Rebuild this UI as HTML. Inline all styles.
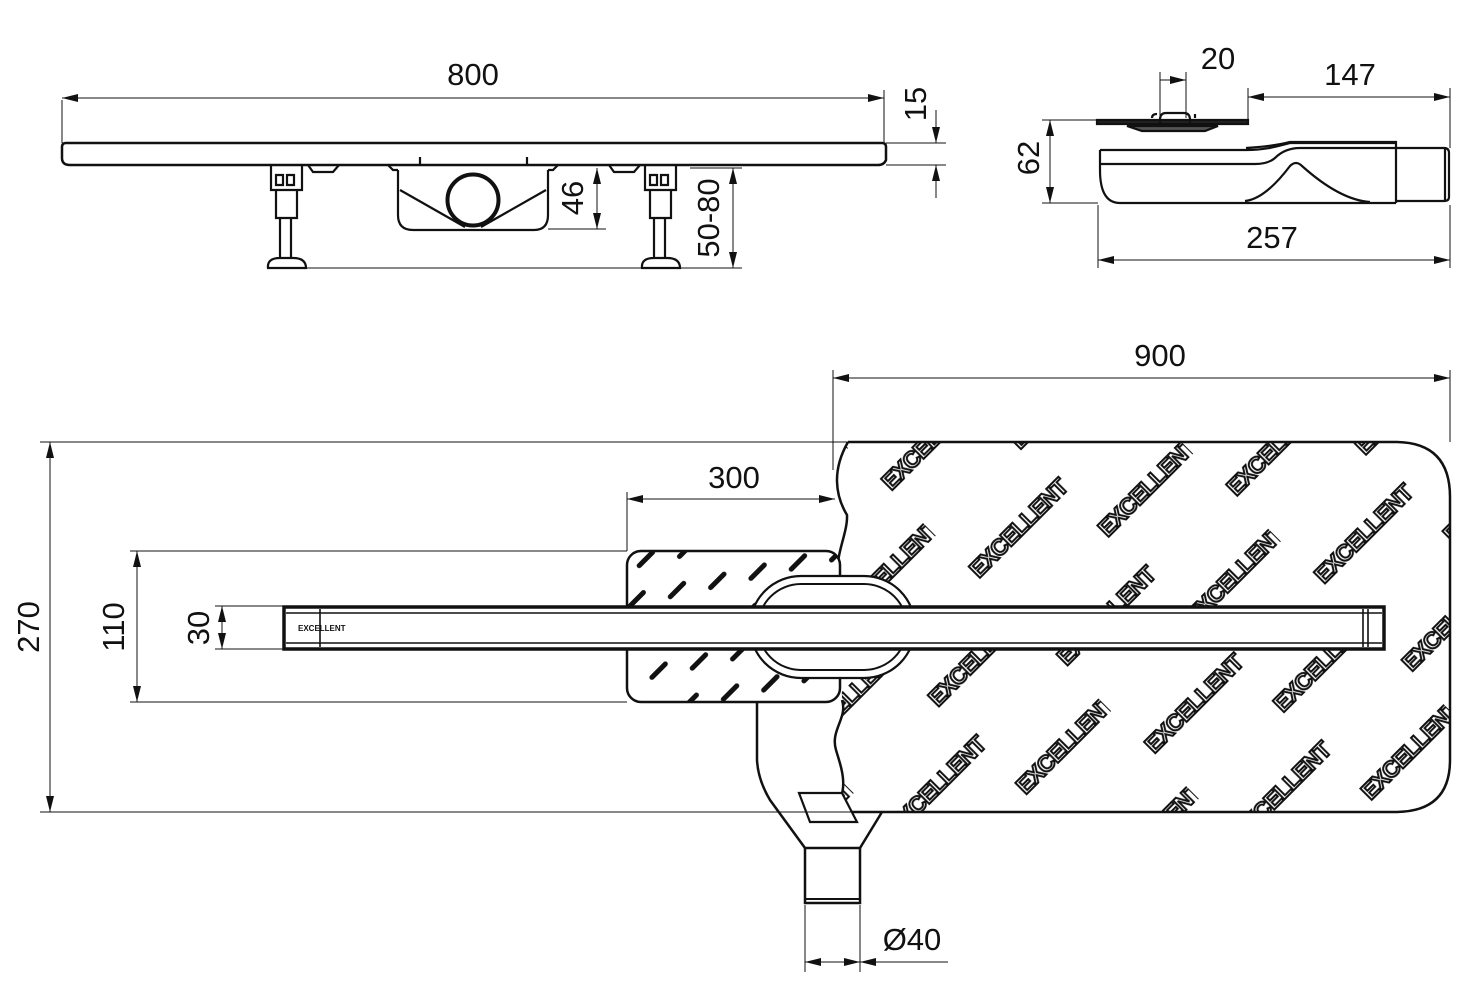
<!DOCTYPE html>
<html><head><meta charset="utf-8"><style>html,body{margin:0;padding:0;background:#fff}svg{display:block}</style></head>
<body>
<svg width="1474" height="982" viewBox="0 0 1474 982" xmlns="http://www.w3.org/2000/svg" font-family="Liberation Sans, sans-serif">
<defs>
<marker id="a" viewBox="0 0 16 8" refX="16" refY="4" markerWidth="16" markerHeight="8" orient="auto-start-reverse" markerUnits="userSpaceOnUse"><path d="M0,0 L16,4 L0,8 Z" fill="#111"/></marker>
<pattern id="wm" width="240" height="124" patternUnits="userSpaceOnUse" patternTransform="translate(870,470) rotate(-45)">
<text x="0" y="30" font-size="23" font-weight="bold" fill="#fff" stroke="#111" stroke-width="2" letter-spacing="-1">EXCELLENT</text>
<text x="120" y="92" font-size="23" font-weight="bold" fill="#fff" stroke="#111" stroke-width="2" letter-spacing="-1">EXCELLENT</text>
</pattern>
<pattern id="hs" width="70" height="44" patternUnits="userSpaceOnUse" patternTransform="translate(630,560) rotate(-45)">
<rect x="0" y="8" width="24" height="5" rx="2.5" fill="#111"/>
<rect x="35" y="30" width="24" height="5" rx="2.5" fill="#111"/>
</pattern>
<clipPath id="mc"><path d="M848,442 L1395,442 Q1450,442 1450,497 L1450,760 Q1450,812 1395,812 L833,812 C850,790 842,770 836,750 C830,730 848,718 842,700 L840,580 C832,560 848,535 847,515 C835,495 832,470 848,442 Z"/></clipPath>
</defs>
<g stroke="#111" fill="none">
<path d="M66,143 L882,143 Q886,143 886,147 L886,160 Q884,165 878,165 L70,165 Q62,165 62,158 L62,147 Q62,143 66,143 Z" stroke-width="2.5"/>
<path d="M62,100 V143 M884,90 V143" stroke-width="1"/>
<line x1="62" y1="98" x2="884" y2="98" stroke-width="1" marker-start="url(#a)" marker-end="url(#a)"/>
<path d="M886,143 H946 M886,165 H946" stroke-width="1"/>
<line x1="936" y1="110" x2="936" y2="143" stroke-width="1" marker-end="url(#a)"/>
<line x1="936" y1="198" x2="936" y2="165" stroke-width="1" marker-end="url(#a)"/>
<g stroke-width="2.2">
<path d="M271,165 V190 H302 V165 M276,190 V218 H297 V190 M280,218 V258 M291,218 V258 M268,268 Q267,258 280,258 H293 Q306,258 306,268 Z M276,175 h7 v10 h-7z M287,175 h7 v10 h-7z"/>
<path d="M645,165 V190 H676 V165 M650,190 V218 H671 V190 M654,218 V258 M665,218 V258 M642,268 Q641,258 654,258 H667 Q680,258 680,268 Z M650,175 h7 v10 h-7z M661,175 h7 v10 h-7z"/>
<path d="M308,165 L313,172 H333 L339,165 M609,165 L614,172 H634 L640,165"/>
<path d="M388,165 L393,170 H398 M548,170 H553 L558,165 M420,157 V165 M527,157 V165"/>
<path d="M398,170 V215 Q398,230 413,230 H534 Q548,230 548,215 V170"/>
<path d="M400,190 L465,227 M546,190 L481,227"/>
<circle cx="473" cy="200" r="25.5" stroke-width="4"/>
</g>
<path d="M548,229 H606 M690,168 H742 M306,268 H742" stroke-width="1"/>
<line x1="597" y1="168" x2="597" y2="229" stroke-width="1" marker-start="url(#a)" marker-end="url(#a)"/>
<line x1="733" y1="168" x2="733" y2="268" stroke-width="1" marker-start="url(#a)" marker-end="url(#a)"/>
<g stroke-width="2.2">
<path d="M1097,120 H1248 V124 H1097 Z" fill="#222"/>
<path d="M1127,126 H1218 L1205,131 H1142 Z" fill="#555"/>
<path d="M1152,118 Q1152,114 1157,114 M1160,118 V127 M1160,120 Q1160,113 1166,113 H1184 Q1190,113 1190,120 V127 M1195,114 V118"/>
<path d="M1100,150 H1246 C1265,150 1275,147 1290,143 H1396 M1246,148 Q1275,146 1290,142 H1396 V203 M1100,150 V170 Q1100,203 1120,203 H1396 M1100,164 H1255 Q1268,164 1275,158 Q1285,148 1300,148 H1396 M1245,201 Q1265,199 1290,166 Q1296,160 1302,166 Q1340,200 1370,202"/>
<path d="M1396,148 H1444 Q1449,148 1449,153 V197 Q1449,201 1444,201 H1396 M1445,148 V201"/>
</g>
<path d="M1042,120 H1160 M1042,203 H1098 M1160,72 V118 M1186,72 V118 M1248,88 V120 M1450,88 V148 M1098,205 V268 M1450,205 V268" stroke-width="1"/>
<line x1="1050" y1="120" x2="1050" y2="203" stroke-width="1" marker-start="url(#a)" marker-end="url(#a)"/>
<line x1="1160" y1="80" x2="1186" y2="80" stroke-width="1" marker-end="url(#a)"/>
<line x1="1248" y1="97" x2="1450" y2="97" stroke-width="1" marker-start="url(#a)" marker-end="url(#a)"/>
<line x1="1098" y1="260" x2="1450" y2="260" stroke-width="1" marker-start="url(#a)" marker-end="url(#a)"/>
<rect x="830" y="440" width="625" height="375" fill="url(#wm)" stroke="none" clip-path="url(#mc)"/>
<path d="M848,442 L1395,442 Q1450,442 1450,497 L1450,760 Q1450,812 1395,812 L833,812 C850,790 842,770 836,750 C830,730 848,718 842,700 M840,580 C832,560 848,535 847,515 C835,495 832,470 848,442" stroke-width="2.5"/>
<rect x="627" y="551" width="213" height="151" rx="14" fill="#fff" stroke="none"/>
<rect x="627" y="551" width="213" height="151" rx="14" fill="url(#hs)" stroke-width="2.5"/>
<path d="M757,702 V760 Q758,780 770,800 L805,848 M882,812 L860,848" stroke-width="2.5"/>
<path d="M799,793 H842 L857,822 H810 Z" stroke-width="2.2" fill="#fff"/>
<rect x="805" y="848" width="55" height="55" stroke-width="2.5" fill="#fff"/>
<path d="M806,899 H859" stroke-width="2"/>
<rect x="750" y="576" width="165" height="102" rx="51" stroke-width="2.2" fill="#fff"/>
<rect x="758" y="584" width="149" height="86" rx="43" stroke-width="2"/>
<rect x="284" y="607" width="1100" height="42" stroke-width="3.5" fill="#fff"/>
<path d="M286,613 H1382 M286,643 H1382 M320,609 V647 M1363,609 V647 M1368,609 V647" stroke-width="1.6"/>
<path d="M40,442 H848 M40,812 H880 M130,551 H627 M130,702 H627 M215,606 H284 M215,649 H284 M627,492 V551 M833,370 V470 M1450,370 V442 M805,905 V972 M860,905 V972" stroke-width="1"/>
<line x1="50" y1="442" x2="50" y2="812" stroke-width="1" marker-start="url(#a)" marker-end="url(#a)"/>
<line x1="137" y1="551" x2="137" y2="702" stroke-width="1" marker-start="url(#a)" marker-end="url(#a)"/>
<line x1="222" y1="606" x2="222" y2="649" stroke-width="1" marker-start="url(#a)" marker-end="url(#a)"/>
<line x1="627" y1="499" x2="835" y2="499" stroke-width="1" marker-start="url(#a)" marker-end="url(#a)"/>
<line x1="833" y1="378" x2="1450" y2="378" stroke-width="1" marker-start="url(#a)" marker-end="url(#a)"/>
<line x1="805" y1="962" x2="860" y2="962" stroke-width="1" marker-start="url(#a)" marker-end="url(#a)"/>
<line x1="948" y1="962" x2="860" y2="962" stroke-width="1" marker-end="url(#a)"/>
</g>
<text x="298" y="631" font-size="8" font-weight="bold" fill="#111">EXCELLENT</text>
<g font-size="31" fill="#111" text-anchor="middle">
<text x="473" y="85">800</text>
<text transform="translate(926,104) rotate(-90)">15</text>
<text transform="translate(583,198) rotate(-90)">46</text>
<text transform="translate(719,218) rotate(-90)">50-80</text>
<text transform="translate(1039,158) rotate(-90)">62</text>
<text x="1218" y="69">20</text>
<text x="1350" y="85">147</text>
<text x="1272" y="248">257</text>
<text x="1160" y="366">900</text>
<text x="734" y="488">300</text>
<text transform="translate(39,627) rotate(-90)">270</text>
<text transform="translate(124,627) rotate(-90)">110</text>
<text transform="translate(209,628) rotate(-90)">30</text>
<text x="912" y="950">Ø40</text>
</g>
</svg>
</body></html>
